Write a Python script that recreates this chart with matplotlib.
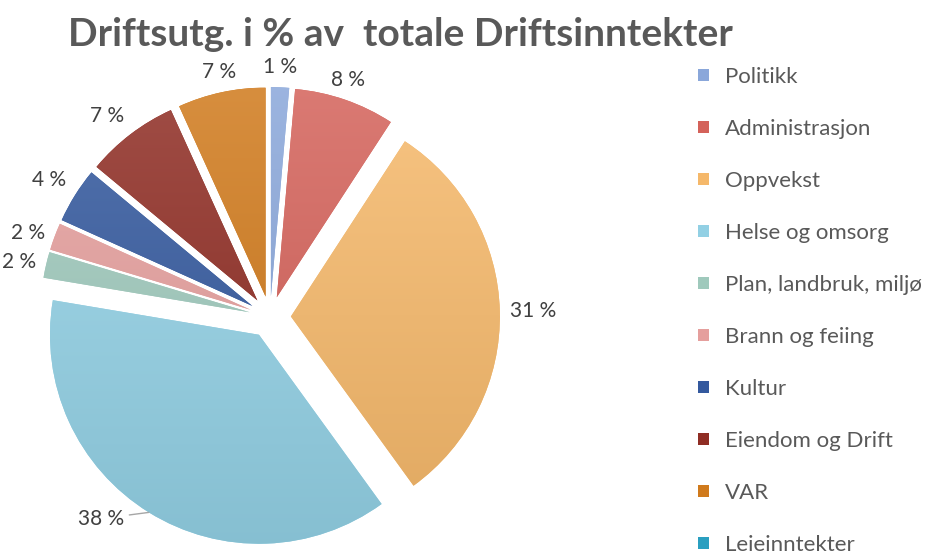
import numpy as np
import matplotlib

matplotlib.use("Agg")
import matplotlib.pyplot as plt
from matplotlib.colors import LinearSegmentedColormap, to_rgb
from matplotlib.patches import Patch

plt.rcParams["font.family"] = ["Lato", "DejaVu Sans"]

title = "Driftsutg. i % av  totale Driftsinntekter"
categories = [
    "Politikk", "Administrasjon", "Oppvekst", "Helse og omsorg",
    "Plan, landbruk, miljø", "Brann og feiing", "Kultur",
    "Eiendom og Drift", "VAR", "Leieinntekter",
]
shares = [1.4, 7.8, 30.9, 37.7, 2.0, 2.1, 4.3, 7.2, 6.8, 0.0]
colors = [
    "#8aa7da", "#d4625a", "#f5b86a", "#92d0e4", "#9fc9bc",
    "#e59f9d", "#34599e", "#8f2d24", "#d07a1c", "#2a9fc0",
]
explode = [0.1] * len(shares)

W, H = 928, 554
R, CX, CY = 209, 270, 317   # pie radius / centre in pixels


def shade(c, f):
    r = np.array(to_rgb(c))
    return tuple(r + (1 - r) * f) if f > 0 else tuple(r * (1 + f))


fig = plt.figure(figsize=(W / 100, H / 100), dpi=100)
ax = fig.add_axes([0, 0, 1, 1])
wedges, _ = ax.pie(
    shares, explode=explode, colors=colors, startangle=90,
    counterclock=False, wedgeprops=dict(linewidth=0),
)

# vertical gradient (light top -> darker bottom), like the Office fill
grad = np.linspace(1, 0, 256).reshape(-1, 1)
for w, c in zip(wedges, colors):
    cm = LinearSegmentedColormap.from_list("g", [shade(c, -0.08), shade(c, 0.15)])
    x0, y0 = w.center
    im = ax.imshow(grad, cmap=cm, extent=(x0 - 1, x0 + 1, y0 - 1, y0 + 1),
                   aspect="auto", zorder=2, interpolation="bilinear")
    im.set_clip_path(w)

total = sum(shares)
for w, v, name in zip(wedges, shares, categories):
    if v == 0:
        continue
    txt = f"{round(100 * v / total)} %"
    ang = np.deg2rad((w.theta1 + w.theta2) / 2)
    x0, y0 = w.center
    c, s = np.cos(ang), np.sin(ang)
    if name == "Helse og omsorg":
        ex, ey = x0 + c, y0 + s
        ax.annotate(txt, xy=(ex, ey), xytext=(ex - 0.12, ey - 0.03),
                    ha="right", va="center", fontsize=15, color="#404040",
                    arrowprops=dict(arrowstyle="-", color="#a6a6a6", lw=1,
                                    shrinkA=2, shrinkB=0))
        continue
    ha = "left" if c > 0.35 else ("right" if c < -0.35 else "center")
    va = "bottom" if s > 0.35 else ("top" if s < -0.35 else "center")
    ax.text(x0 + 1.05 * c, y0 + 1.05 * s, txt, ha=ha, va=va,
            fontsize=15, color="#404040")

ax.set_xlim(-CX / R, (W - CX) / R)
ax.set_ylim(-(H - CY) / R, CY / R)
ax.set_aspect("equal")
ax.axis("off")

handles = [Patch(facecolor=c) for c in colors]
fig.legend(handles, categories, loc="upper left",
           bbox_to_anchor=(698 / W, 1 - 67 / H), frameon=False, fontsize=16,
           labelspacing=1.44, handlelength=0.5, handleheight=0.5,
           handletextpad=0.7, labelcolor="#595959", borderaxespad=0,
           borderpad=0)

fig.text(400 / W, 1 - 34 / H, title, ha="center", va="center",
         fontsize=28, fontweight="bold", color="#595959")

fig.savefig("out.png", dpi=100)
